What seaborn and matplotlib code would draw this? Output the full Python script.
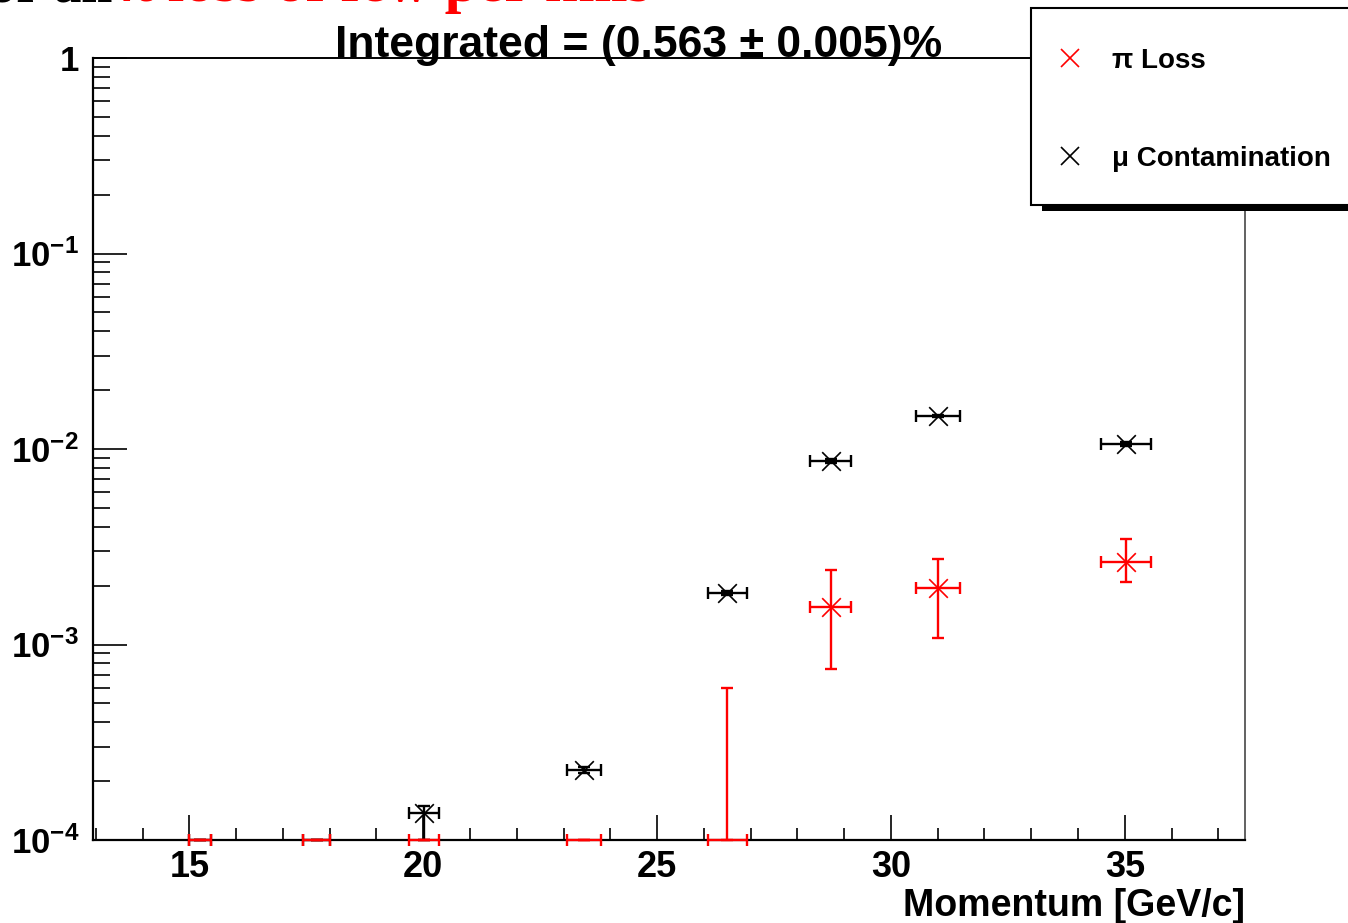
import numpy as np
import pandas as pd
import matplotlib
matplotlib.use("Agg")
import matplotlib.pyplot as plt
import seaborn as sns
from matplotlib.lines import Line2D
from matplotlib.patches import Rectangle
from matplotlib.ticker import LogLocator, MultipleLocator, FuncFormatter, NullFormatter

# ---------------- data ----------------
momentum = [15.235, 17.72, 20.02, 23.44, 26.505, 28.71, 31.0, 35.025]
momentum_halfwidth = [0.235, 0.28, 0.32, 0.36, 0.415, 0.44, 0.47, 0.535]

mu_contamination = [0, 0, 1.37e-4, 2.28e-4, 1.83e-3, 8.69e-3, 1.476e-2, 1.062e-2]
mu_low = [0, 0, 0, 2.21e-4, 1.79e-3, 8.5e-3, 1.45e-2, 1.04e-2]
mu_high = [0, 0, 1.5e-4, 2.35e-4, 1.87e-3, 8.9e-3, 1.50e-2, 1.085e-2]

pi_loss = [0, 0, 0, 0, 0, 1.556e-3, 1.945e-3, 2.64e-3]
pi_low = [0, 0, 0, 0, 0, 7.5e-4, 1.08e-3, 2.09e-3]
pi_high = [0, 0, 0, 0, 5.98e-4, 2.40e-3, 2.74e-3, 3.47e-3]

legend_labels = ["π Loss", "μ Contamination"]
title_text = "Integrated = (0.563 ± 0.005)%"
x_label = "Momentum [GeV/c]"
x_range = (12.94, 37.57)
y_range = (1e-4, 1.0)

# ---------------- style ----------------
sns.set_theme(style="white")
plt.rcParams["font.family"] = ["Liberation Sans", "DejaVu Sans"]
plt.rcParams["font.weight"] = "bold"
plt.rcParams["text.color"] = "black"
plt.rcParams["axes.labelcolor"] = "black"
plt.rcParams["xtick.color"] = "black"
plt.rcParams["ytick.color"] = "black"
plt.rcParams["mathtext.fontset"] = "custom"
plt.rcParams["mathtext.rm"] = "Liberation Sans:bold"
plt.rcParams["mathtext.bf"] = "Liberation Sans:bold"
plt.rcParams["mathtext.it"] = "Liberation Sans:bold"

W, H = 1348, 923
fig = plt.figure(figsize=(W / 100, H / 100), dpi=100)
fig.patch.set_facecolor("white")
ax = fig.add_axes([93 / W, 1 - 840 / H, (1245 - 93) / W, (840 - 58) / H])
ax.set_facecolor("white")
ax.set_yscale("log")
ax.set_xlim(*x_range)
ax.set_ylim(*y_range)

YMIN = y_range[0]
x = np.array(momentum)
xw = np.array(momentum_halfwidth)


def draw_series(vals, lo, hi, color):
    vals = np.array(vals, float)
    y = np.maximum(vals, YMIN)
    ylo = np.maximum(np.array(lo, float), YMIN)
    yhi = np.maximum(np.array(hi, float), YMIN)
    yerr = [np.maximum(y - ylo, 0), np.maximum(yhi - y, 0)]
    cont = ax.errorbar(x, y, xerr=xw, yerr=yerr, fmt="none", ecolor=color,
                       elinewidth=1.7, capsize=4.2, capthick=1.7, zorder=3)
    for art in cont.get_children():
        art.set_clip_on(False)
    df = pd.DataFrame({"p": x, "v": vals})
    df = df[df["v"] > 0]
    sns.scatterplot(data=df, x="p", y="v", marker="x", color=color, s=180,
                    linewidth=1.2, ax=ax, legend=False, zorder=4)


draw_series(mu_contamination, mu_low, mu_high, "black")
draw_series(pi_loss, pi_low, pi_high, "#ff0000")

ax.set_xlabel("")
ax.set_ylabel("")

# ticks
ax.xaxis.set_major_locator(MultipleLocator(5))
ax.xaxis.set_minor_locator(MultipleLocator(1))
ax.yaxis.set_major_locator(LogLocator(base=10, numticks=10))
ax.yaxis.set_minor_locator(LogLocator(base=10, subs=np.arange(2, 10), numticks=20))
ax.yaxis.set_minor_formatter(NullFormatter())


def yfmt(v, pos):
    e = int(round(np.log10(v)))
    if e == 0:
        return "1"
    return r"$\mathbf{10^{%d}}$" % e


ax.yaxis.set_major_formatter(FuncFormatter(yfmt))
ax.tick_params(axis="x", which="major", direction="in", length=18, width=1.2,
               labelsize=26, pad=7, bottom=True, top=False, color="black",
               labelcolor="black")
ax.tick_params(axis="x", which="minor", direction="in", length=8.6, width=1.2,
               bottom=True, top=False, color="black")
ax.tick_params(axis="y", which="major", direction="in", length=24.5, width=1.2,
               labelsize=25, pad=10, left=True, right=False, color="black",
               labelcolor="black")
ax.tick_params(axis="y", which="minor", direction="in", length=12, width=1.2,
               left=True, right=False, color="black")
for lab in ax.get_xticklabels() + ax.get_yticklabels():
    lab.set_fontweight("bold")

for side in ["left", "bottom"]:
    ax.spines[side].set_linewidth(1.6)
    ax.spines[side].set_color("black")
ax.spines["top"].set_linewidth(1.4)
ax.spines["top"].set_color("black")
ax.spines["right"].set_linewidth(1.3)
ax.spines["right"].set_color("#555555")

ax.set_xlabel(x_label, loc="right", fontsize=27, fontweight="bold", labelpad=2,
              color="black")

# title
fig.text(639 / W, 1 - 57 / H, title_text, ha="center", va="baseline",
         fontsize=32, fontweight="bold", color="black", zorder=9)

# header text cut off at the very top (as in the reference)
fig.text(112 / W, 1 - 1.5 / H, "for all", ha="right", va="baseline", color="black",
         family=["Liberation Serif", "DejaVu Serif"], fontweight="bold", fontsize=40)
fig.text(120 / W, 1 - 1.5 / H, "π loss of few per mils", ha="left", va="baseline",
         color="#ff0000", family=["Liberation Serif", "DejaVu Serif"],
         fontweight="bold", fontsize=43)

# legend box with ROOT-like shadow
fig.add_artist(Rectangle((1042 / W, 1 - 211 / H), (1400 - 1042) / W, (211 - 14) / H,
                         transform=fig.transFigure, facecolor="black",
                         edgecolor="none", zorder=7))
fig.add_artist(Rectangle((1031 / W, 1 - 205 / H), (1400 - 1031) / W, (205 - 8) / H,
                         transform=fig.transFigure, facecolor="white",
                         edgecolor="black", linewidth=1.5, zorder=8))
handles = [Line2D([], [], marker="x", ls="none", color="#ff0000", ms=13, mew=1.2),
           Line2D([], [], marker="x", ls="none", color="black", ms=13, mew=1.2)]
leg = fig.legend(handles, legend_labels, loc="upper left",
                 bbox_to_anchor=(1056 / W, 1 - 48 / H), bbox_transform=fig.transFigure,
                 frameon=False, fontsize=20, handlelength=1.0, handletextpad=1.0,
                 labelspacing=2.6, borderpad=0, borderaxespad=0)
for t in leg.get_texts():
    t.set_fontweight("bold")
    t.set_color("black")
leg.set_zorder(10)

fig.savefig("out.png", dpi=100, facecolor="white")
